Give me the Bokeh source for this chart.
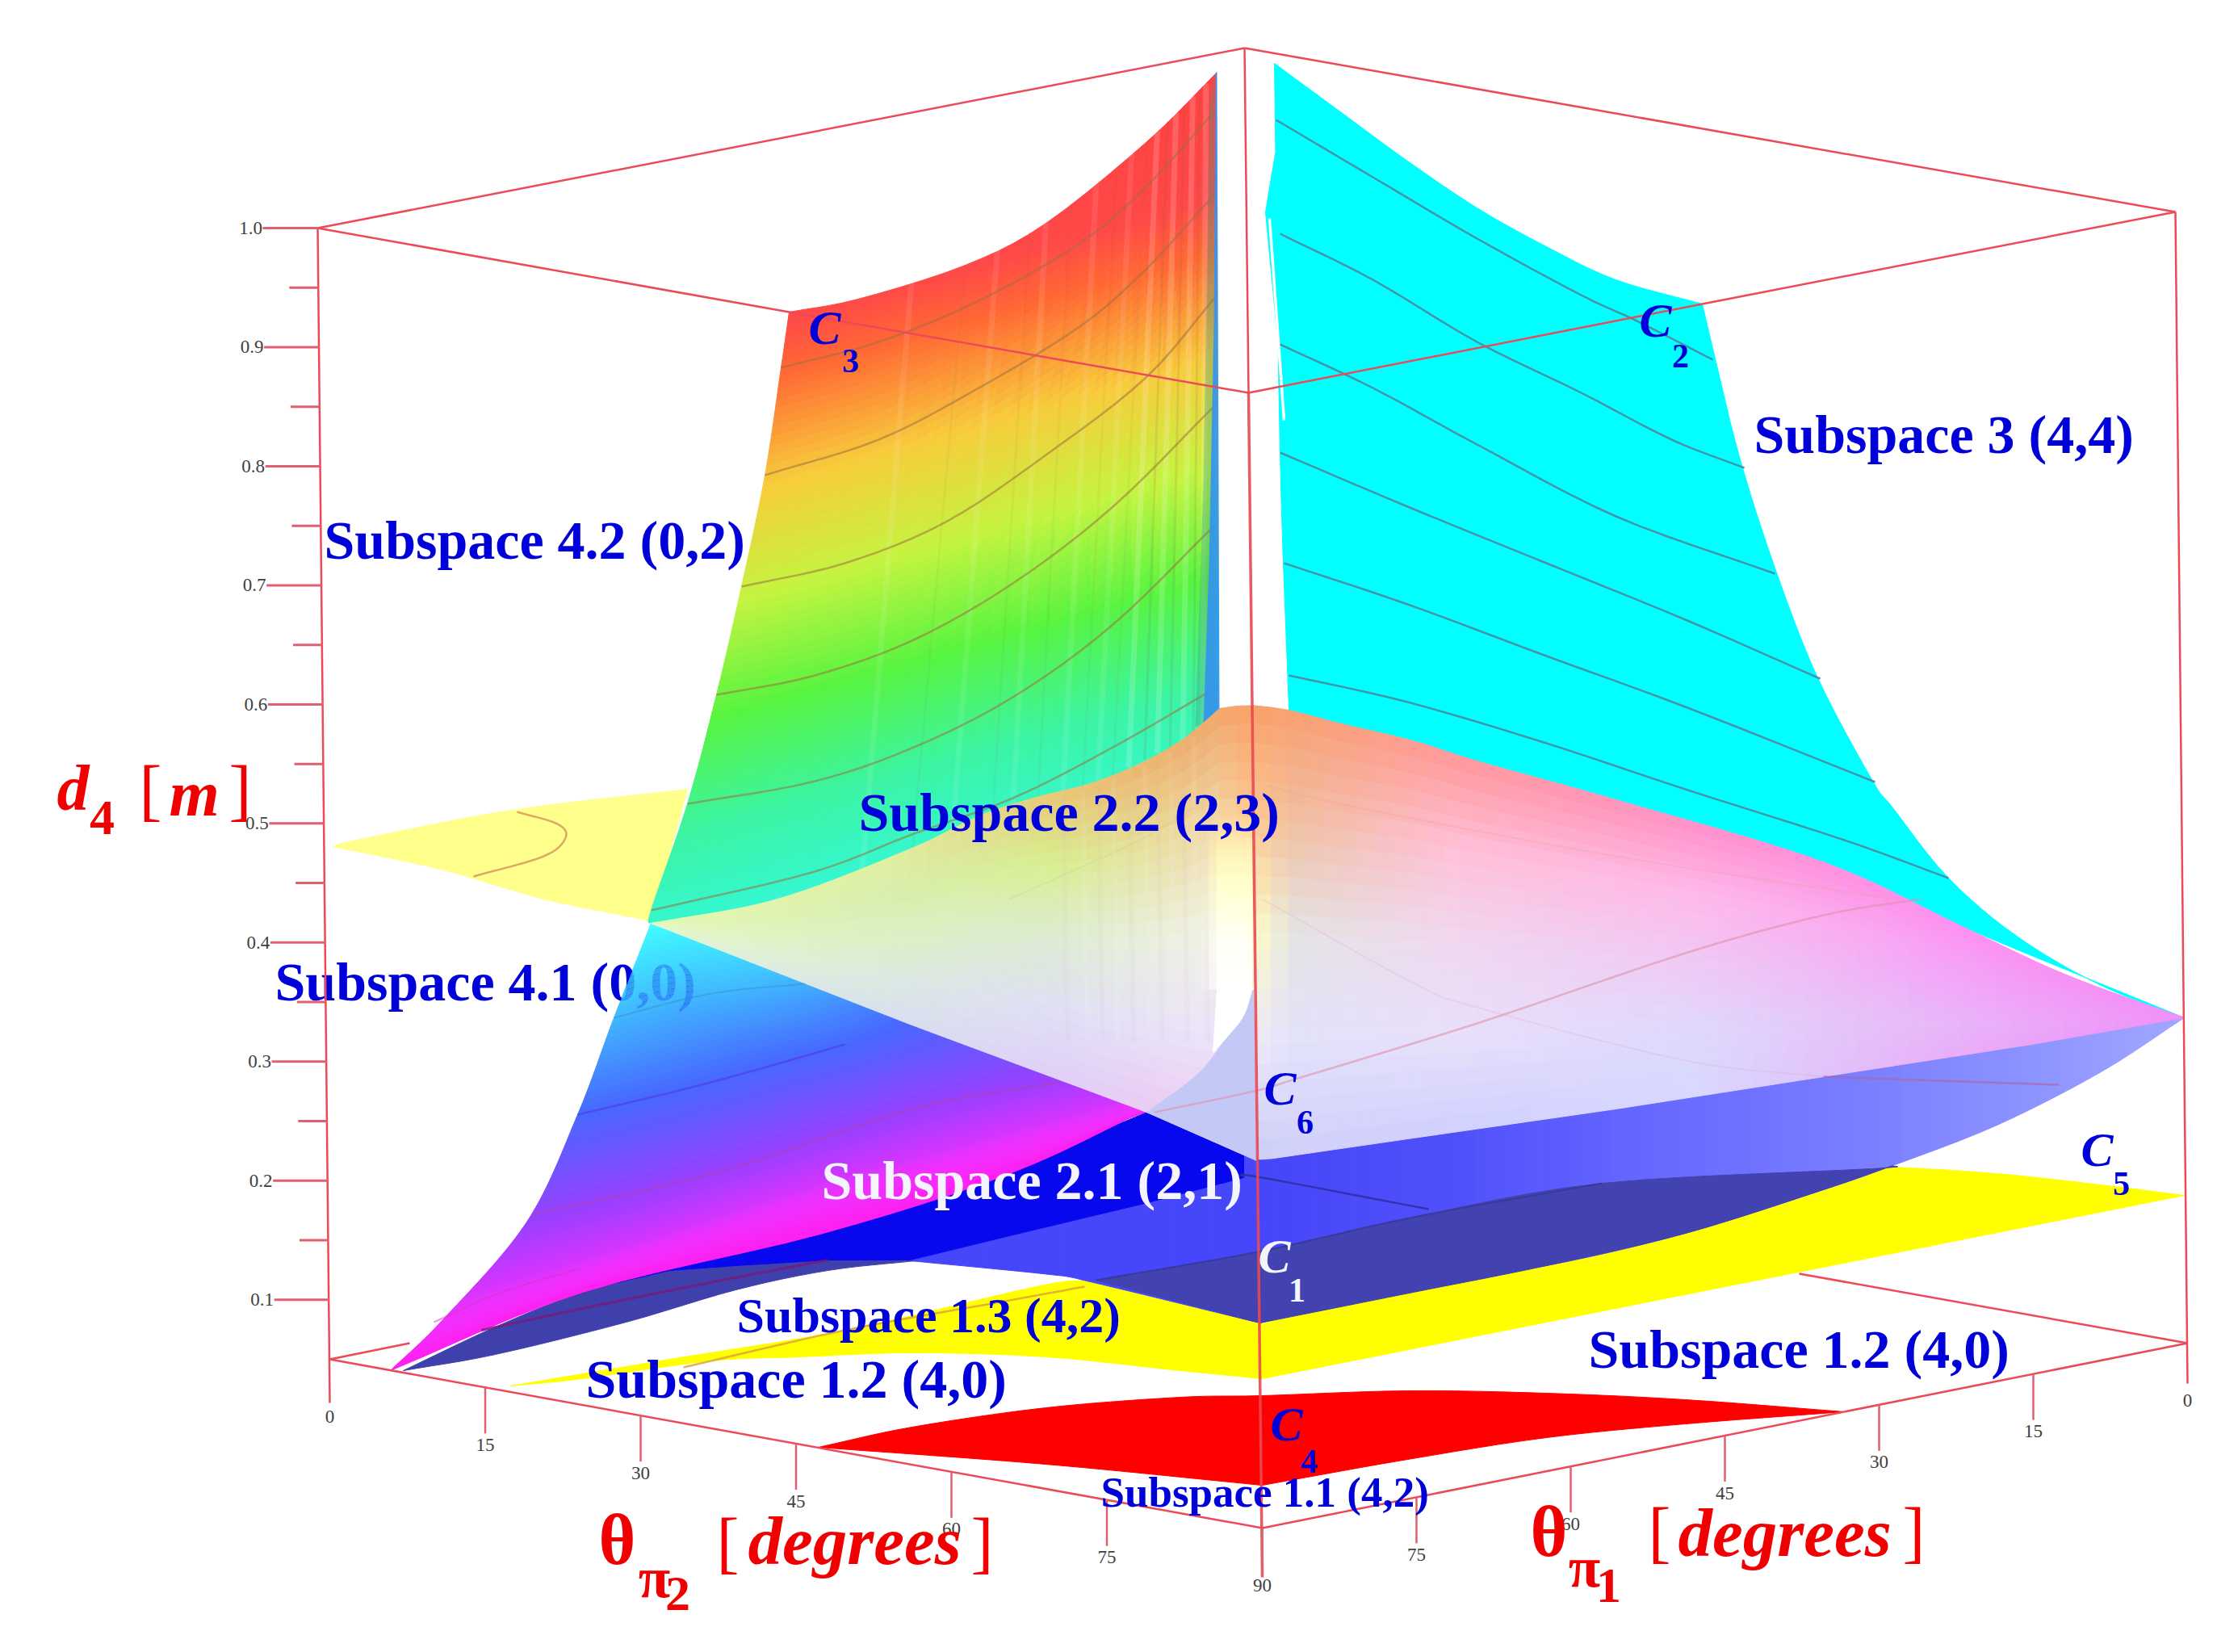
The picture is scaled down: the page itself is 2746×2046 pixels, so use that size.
import numpy as np
from bokeh.plotting import figure
from bokeh.models import Range1d, ColumnDataSource
from bokeh.core.properties import value
from bokeh.embed import file_html
from bokeh.resources import INLINE

# ---------- axis values ----------
d4_major = [0.1, 0.2, 0.3, 0.4, 0.5, 0.6, 0.7, 0.8, 0.9, 1.0]
d4_minor = [0.15, 0.25, 0.35, 0.45, 0.55, 0.65, 0.75, 0.85, 0.95]
theta_ticks = [0, 15, 30, 45, 60, 75, 90]

# box corners in the picture plane
BOX_TL, BOX_TB, BOX_TF, BOX_TR = (393, 282), (1541, 59), (1546, 486), (2694, 262)
BOX_BL, BOX_BF, BOX_BR = (408, 1683), (1563, 1892), (2709, 1663)
LID_L, LID_R = (977, 386), (2108, 376)
BACK_L, BACK_R = (507, 1663), (2228, 1577)

# ---------- surfaces ----------
cyan_upper = [(1578,78),(1657,136),(1743,199),(1829,257),(1915,305),(2001,346),(2108,376)]
cyan_right = [(2108,376),(2125,448),(2155,569),(2198,703),(2250,837),(2318,965),(2344,1000),(2413,1087),(2499,1160),(2602,1220),(2705,1260)]
cyan_back = [(2705,1260),(2430,1147),(2258,1067),(2001,990),(1829,942),(1657,895),(1596,879)]
cyan_left = [(1596,879),(1585,560),(1578,78)]
cyan_wedge = [(1579,190),(1567,262),(1592,525),(1584,400)]
cyan_sliver = [(1572,270),(1590,520)]
cyan_contours = [
    [(1580,148),(1700,219),(1829,295),(1958,365),(2027,397),(2121,445)],
    [(1585,289),(1700,346),(1829,423),(1958,486),(2070,544),(2160,579)],
    [(1585,426),(1700,480),(1829,550),(2001,639),(2198,710)],
    [(1585,560),(1743,627),(1915,697),(2087,767),(2254,840)],
    [(1590,697),(1743,748),(1915,812),(2087,875),(2322,968)],
    [(1596,836),(1743,869),(1915,920),(2087,977),(2284,1040),(2413,1087)],
]
wing_upper = [(412,1048),(441,1040),(632,1003),(851,977)]
wing_hidden = [(851,977),(806,1140)]
wing_lower = [(806,1140),(673,1113),(549,1077),(412,1048)]
wing_arc = [(640,1005),(690,1020),(700,1037),(673,1060),(586,1085)]

rainbow_rows = [
    [(977,386),(1062,370),(1195,328),(1295,276),(1420,175),(1506,90)],
    [(967,455),(1088,423),(1212,372),(1337,301),(1419,231),(1506,135)],
    [(947,588),(1088,544),(1212,480),(1337,404),(1419,333),(1506,238)],
    [(918,726),(1046,697),(1171,646),(1295,563),(1419,467),(1507,365)],
    [(887,860),(1005,837),(1129,793),(1254,722),(1378,627),(1507,499)],
    [(851,995),(1005,968),(1129,926),(1254,863),(1378,773),(1508,646)],
    [(806,1127),(1005,1080),(1129,1033),(1254,988),(1378,925),(1508,850)],
    [(806,1143),(1005,1110),(1129,1060),(1254,1000),(1378,960),(1509,895)],
]
rainbow_stop_y = [240,400,470,600,735,870,1000,1130,1250]
rainbow_stop_c = ["#ff4040","#ff4848","#ff6a34","#f8cc3c","#c4f440","#58f440","#3cf4a0","#34f8d8","#34ffff"]
rib_positions = [1.5,2.0,2.4,2.8,3.0,3.25,3.5,3.7,3.85,4.0,4.15,4.3,4.42,4.54,4.66,4.76,4.85]
blue_strip = [(1505,90),(1507,88),(1509,600),(1510,895),(1490,900),(1497,700),(1503,400)]
teal_strip = [(1498,120),(1503,95),(1504,890),(1480,900),(1490,600)]

lower41_rows = [
    [(806,1143),(806,1143),(806,1143),(806,1143),(806,1143)],
    [(760,1260),(800,1247),(840,1237),(900,1227),(1003,1208)],
    [(715,1380),(830,1352),(950,1318),(1060,1290),(1135,1259)],
    [(652,1513),(800,1475),(1000,1415),(1170,1365),(1318,1330)],
    [(549,1633),(750,1568),(1000,1490),(1250,1420),(1417,1370)],
    [(483,1697),(721,1600),(1019,1527),(1250,1453),(1424,1372)],
]
lower41_colors = ["#40ffff","#40b8ff","#4868ff","#9a40ff","#f030ff","#ff20f0"]
deep_blue = [(1420,1377),(1540,1430),(1540,1458),(1417,1490),(1250,1530),(1127,1560),(1025,1560),(911,1567),(829,1573),
             (721,1598),(1000,1522),(1250,1448)]

medium_top = [(1127,1560),(1250,1530),(1417,1490),(1540,1430),(1557,1437),(1743,1410),(2001,1373),(2258,1333),(2516,1293),(2705,1260)]
medium_bottom = [(1127,1561),(1300,1578),(1350,1587),(1560,1638),(1743,1593),(1915,1567),(2087,1527),(2258,1473),(2344,1443),(2473,1393),(2602,1327),(2705,1260)]
medium_x = [1127,1557,1800,2000,2300,2500,2705]
medium_c = ["#4646fa","#4646fa","#5050fa","#6464ff","#7a7eff","#8c92ff","#a0a8ff"]

navy_left_up = [(499,1697),(613,1643),(721,1600),(829,1573),(911,1567),(1025,1560),(1133,1561)]
navy_left_lo = [(1133,1561),(1025,1573),(911,1597),(775,1637),(613,1677),(499,1697)]
navy_c_up = [(1357,1585),(1557,1550),(1750,1507),(1984,1465),(2318,1447),(2344,1443)]
navy_c_lo = [(2344,1443),(2258,1473),(2087,1527),(1915,1567),(1750,1600),(1560,1638)]

yellow_up = [(632,1716),(829,1683),(1046,1647),(1283,1593),(1343,1585)]
yellow_h1 = [(1343,1585),(1563,1639)]
yellow_h2 = [(1563,1639),(2318,1447)]
yellow_up_r = [(2318,1447),(2344,1445),(2473,1453),(2602,1467),(2705,1480)]
yellow_lo_r = [(2705,1480),(1563,1707)]
yellow_lo_l = [(1563,1707),(1461,1697),(1295,1680),(1129,1675),(992,1680),(880,1685),(721,1707),(632,1716)]
red_up = [(1013,1792),(1129,1767),(1295,1743),(1461,1730),(1563,1728),(1743,1722),(1915,1725),(2087,1733),(2284,1748)]
red_lo_r = [(2284,1748),(2087,1763),(1915,1780),(1743,1807),(1563,1839)]
red_lo_l = [(1563,1839),(1295,1813),(1013,1792)]

sheet_top_l = [(806,1143),(963,1113),(1129,1050),(1212,1010),(1283,987),(1350,970),(1417,943),(1477,907),(1507,878),(1550,873)]
sheet_top_r = [(1550,873),(1596,879),(1657,895),(1750,917),(1829,942),(2001,990),(2258,1067),(2430,1147),(2559,1207),(2705,1260)]
sheet_bottom = [(806,1143),(1129,1269),(1420,1377),(1557,1437),(1743,1410),(2001,1373),(2258,1333),(2516,1293),(2705,1260)]
sheet_x = [806,1100,1300,1500,1550,1600,1800,2100,2400,2705]
sheet_v = [0,0.25,0.5,0.75,1]
sheet_c = [
    ["#e4f8b8","#e4f8b8","#e4f8c0","#e4f8c8","#e4f8d0"],
    ["#e0f0a0","#d8eeb0","#dcf0c4","#dceae0","#d8e0f0"],
    ["#e8c878","#d8f090","#dcecd0","#dfe0f4","#e0d0f8"],
    ["#f0a868","#f0d8a8","#f2f2e4","#ece4fa","#f0c8f0"],
    ["#f8a068","#ffc890","#ffffc0","#f0e8f8","#c8ccf6"],
    ["#f8a070","#f0c0a0","#e4e4e4","#e2e2fb","#d0d0fa"],
    ["#ff9898","#ffc0d8","#f0d8f0","#e8e0fa","#d0d0ff"],
    ["#ff90c8","#ffb8e8","#f0c8f4","#e0d8fc","#d8d8ff"],
    ["#ff90f0","#f8a0f4","#f0acf8","#e8b8f8","#e8b0f8"],
    ["#f090f8","#f090f8","#f090f8","#f090f8","#f090f8"],
]
periwinkle_curve = [(1420,1377),(1483,1330),(1520,1283),(1540,1257),(1552,1220)]
strip_y = [1000,1030,1060,1090,1130,1170,1225]
strip_c = ["#ffd49c","#ffe6ac","#fff6bc","#ffffcc","#ffffe4","#fffff8","#ffffff"]
gap_bottom = [(1502,1303),(1520,1283),(1540,1257),(1552,1220)]

sheet_lines = [
    ([(1430,1377),(1557,1350),(1607,1335),(1829,1267),(2087,1180),(2258,1133),(2378,1113)], "#e090a8", 0.6, 2.5),
    ([(1563,1113),(1750,1217),(1829,1247),(2087,1313),(2258,1333)], "#d8a0c0", 0.2, 2),
    ([(1570,973),(1683,1000),(2001,1060),(2344,1113)], "#e8a0a0", 0.3, 2),
    ([(2258,1333),(2550,1343)], "#a868a8", 0.7, 2.5),
    ([(1250,1113),(1417,1037),(1500,985)], "#b8c890", 0.2, 2),
    ([(1540,1457),(1557,1457),(1769,1497)], "#3030a8", 0.9, 2.5),
    ([(1357,1585),(1557,1550),(1750,1507),(1984,1465)], "#383898", 0.9, 2),
    ([(596,1647),(721,1620),(884,1587),(1025,1560)], "#781878", 0.8, 3),
    ([(846,1693),(1046,1647),(1250,1610),(1343,1593)], "#d8a040", 0.8, 2.5),
    ([(661,1503),(894,1450),(1129,1373),(1312,1340)], "#b040b0", 0.5, 2.5),
    ([(760,1260),(880,1230),(997,1218)], "#4090c8", 0.5, 2),
    ([(715,1380),(880,1340),(1046,1293)], "#5038d8", 0.6, 2.5),
    ([(537,1637),(620,1600),(720,1570)], "#e030c0", 0.5, 2),
]

# ---------- helpers ----------
def smooth(pts, n=6):
    P = np.asarray(pts, float)
    if len(P) < 3:
        return P
    Q = np.vstack([2*P[0]-P[1], P, 2*P[-1]-P[-2]])
    out = []
    for i in range(1, len(Q)-2):
        for t in np.linspace(0, 1, n, endpoint=False):
            a, b, c, d = Q[i-1], Q[i], Q[i+1], Q[i+2]
            out.append(0.5*((2*b)+(c-a)*t+(2*a-5*b+4*c-d)*t*t+(3*b-a-3*c+d)*t**3))
    out.append(P[-1])
    return np.array(out)

def closed(*sections):
    return np.vstack([smooth(s) for s in sections])

def rgb(h):
    return np.array([int(h[i:i+2], 16) for i in (1, 3, 5)], float)

def hexc(c):
    c = np.clip(np.round(c), 0, 255).astype(int)
    return "#%02x%02x%02x" % tuple(c)

def surface(rows, subr, subc=6):
    R = np.array([smooth(r, subc) for r in rows])
    return np.stack([smooth(R[:, j], subr) for j in range(R.shape[1])], axis=1)

def band_mesh(rows, colors, sub):
    S = surface(rows, sub)
    xs, ys, cs = [], [], []
    for i in range(S.shape[0]-1):
        poly_ = np.vstack([S[i], S[i+1][::-1]])
        xs.append(poly_[:, 0].tolist()); ys.append(poly_[:, 1].tolist())
        f = (i+0.5)/sub
        k = int(f); t = f-k
        cs.append(hexc(rgb(colors[k])*(1-t)+rgb(colors[k+1])*t))
    return dict(xs=xs, ys=ys, c=cs)

def poly(p, pts, color, alpha=1.0):
    P = np.asarray(pts, float)
    if alpha < 1:
        p.patch(P[:, 0], P[:, 1], fill_color=color, fill_alpha=alpha, line_color=None)
    else:
        p.patch(P[:, 0], P[:, 1], fill_color=color, line_color=color, line_width=1)

def pline(p, pts, color, width=2.5, alpha=1.0, curved=False):
    P = smooth(pts) if curved else np.asarray(pts, float)
    p.line(P[:, 0], P[:, 1], line_color=color, line_width=width, line_alpha=alpha)

def label(p, x, y, s, size, color, style="bold", align="left"):
    p.text([x], [y], text=[s], text_font=value("Liberation Serif"), text_font_size=value(f"{size}px"),
           text_font_style=style, text_color=color, text_align=align, text_baseline="middle")

# ---------- figure ----------
p = figure(width=2730, height=2030, x_range=Range1d(0, 2730), y_range=Range1d(2030, 0),
           output_backend="svg", toolbar_location=None, min_border=0)
p.axis.visible = False
p.grid.visible = False
p.outline_line_color = None
p.background_fill_color = "white"

BOX = "#ec4a58"
pline(p, [BOX_BL, BACK_L], BOX)
pline(p, [BOX_BR, BACK_R], BOX)

# Subspace 3
poly(p, closed(cyan_upper, cyan_right, cyan_back, cyan_left), "#00ffff")
poly(p, cyan_wedge, "#00ffff")
pline(p, cyan_sliver, "#ffffff", 3.5)
for c in cyan_contours:
    pline(p, c, "#4590a4", 2.5, 0.95, curved=True)

# yellow wing
poly(p, closed(wing_upper, wing_hidden, wing_lower), "#ffff8c")
pline(p, wing_arc, "#d8a060", 2.5, 0.9, curved=True)

# rainbow: colour follows height, tilted towards the back corner
S = surface(rainbow_rows, 12, 5)
stops = np.array([rgb(c) for c in rainbow_stop_c])
rd = dict(xs=[], ys=[], c=[])
for i in range(S.shape[0]-1):
    for j in range(S.shape[1]-1):
        q = np.array([S[i, j], S[i, j+1], S[i+1, j+1], S[i+1, j]])
        cx, cy = q.mean(axis=0)
        ye = cy+(cx-950)*0.28
        rd["xs"].append(q[:, 0].tolist()); rd["ys"].append(q[:, 1].tolist())
        rd["c"].append(hexc(np.array([np.interp(ye, rainbow_stop_y, stops[:, ch]) for ch in range(3)])))
p.patches("xs", "ys", source=ColumnDataSource(rd), fill_color="c", line_color="c", line_width=1)
R = np.array(rainbow_rows, float)
for k, f in enumerate(rib_positions):
    i = int(f); t = f-i
    rib = R[:, i]*(1-t)+R[:, i+1]*t
    light = k % 2 == 0
    a = 0.16 if f > 4 else 0.09
    pline(p, [rib[0], rib[-1]], "#ffffff" if light else "#806040", 7 if light else 3, a if light else a-0.03)
for i in range(1, 7):
    pline(p, rainbow_rows[i], "#9a7040", 2.5, 0.55, curved=True)
poly(p, teal_strip, "#409c80", 0.35)
poly(p, blue_strip, "#3494ee", 0.92)

# lower floors
poly(p, closed(yellow_up, yellow_h1, yellow_h2, yellow_up_r, yellow_lo_r, yellow_lo_l), "#ffff00")
poly(p, closed(red_up, red_lo_r, red_lo_l), "#ff0000")

# medium blue body
mx = np.linspace(medium_x[0], medium_x[-1], 150)
mts = np.array(medium_top, float)
mbs = np.vstack([smooth(medium_bottom[:4]), smooth(medium_bottom[3:])])
mt = np.interp(mx, mts[:, 0], mts[:, 1])
mb = np.interp(mx, mbs[:, 0], mbs[:, 1])
mc = np.array([np.interp(mx, medium_x, [rgb(c)[j] for c in medium_c]) for j in range(3)]).T
md = dict(xs=[], ys=[], c=[])
for i in range(len(mx)-1):
    md["xs"].append([mx[i], mx[i+1], mx[i+1], mx[i]])
    md["ys"].append([mt[i], mt[i+1], mb[i+1], mb[i]])
    md["c"].append(hexc(mc[i]))
p.patches("xs", "ys", source=ColumnDataSource(md), fill_color="c", line_color="c", line_width=1)
poly(p, closed(navy_left_up, navy_left_lo), "#4040ac")
poly(p, closed(navy_c_up, navy_c_lo), "#4242b0")

# Subspace 4.1
poly(p, deep_blue, "#0808ee")
src41 = ColumnDataSource(band_mesh(lower41_rows, lower41_colors, 14))
p.patches("xs", "ys", source=src41, fill_color="c", line_color="c", line_width=1)

label(p, 340, 1215, "Subspace 4.1 (0,0)", 68, "#0000d8")
p.patches("xs", "ys", source=src41, fill_color="c", fill_alpha=0.78, line_color=None)

# translucent sheet, Subspaces 2.1 / 2.2
sx = np.linspace(sheet_x[0], sheet_x[-1], 90)
sts = np.vstack([smooth(sheet_top_l), smooth(sheet_top_r)])
sbs = np.array(sheet_bottom, float)
st = np.interp(sx, sts[:, 0], sts[:, 1])
sb = np.interp(sx, sbs[:, 0], sbs[:, 1])
grid = np.array([[rgb(c) for c in col] for col in sheet_c])
vs = np.linspace(0, 1, 25)
sd = dict(xs=[], ys=[], c=[])
for i in range(len(sx)-1):
    xm = (sx[i]+sx[i+1])/2
    col = np.array([[np.interp(xm, sheet_x, grid[:, r, ch]) for ch in range(3)] for r in range(5)])
    for j in range(len(vs)-1):
        vm = (vs[j]+vs[j+1])/2
        cc = [np.interp(vm, sheet_v, col[:, ch]) for ch in range(3)]
        sd["xs"].append([sx[i], sx[i+1], sx[i+1], sx[i]])
        sd["ys"].append([st[i]+(sb[i]-st[i])*vs[j], st[i+1]+(sb[i+1]-st[i+1])*vs[j],
                         st[i+1]+(sb[i+1]-st[i+1])*vs[j+1], st[i]+(sb[i]-st[i])*vs[j+1]])
        sd["c"].append(hexc(np.array(cc)))
p.patches("xs", "ys", source=ColumnDataSource(sd), fill_color="c", line_color="c", line_width=1)

# ribs seen through the sheet
for k, f in enumerate(rib_positions[6:]):
    i = int(f); t = f-i
    rib = R[:, i]*(1-t)+R[:, i+1]*t
    x0 = rib[-1, 0]
    pline(p, [(x0, np.interp(x0, sts[:, 0], sts[:, 1])+6), (x0+6, 1290)], "#ffffff" if k % 2 else "#d0b0c0", 6, 0.08)

poly(p, np.vstack([smooth(periwinkle_curve), [(1556, 1437)]]), "#c4c8f6")
# pale gap below the apex, fading downwards and to the left
gy = np.linspace(strip_y[0], strip_y[-1], 31)
gc = np.array([np.interp(gy, strip_y, [rgb(c)[j] for c in strip_c]) for j in range(3)]).T
for i in range(len(gy)-1):
    c = hexc(gc[i])
    fade = min(1.0, (i+1)/6)
    poly(p, [(1488, gy[i]), (1497, gy[i]), (1497, gy[i+1]), (1488, gy[i+1])], c, 0.22*fade)
    poly(p, [(1497, gy[i]), (1507, gy[i]), (1507, gy[i+1]), (1497, gy[i+1])], c, 0.55*fade)
    poly(p, [(1507, gy[i]), (1550, gy[i]), (1550, gy[i+1]), (1507, gy[i+1])], c, fade)
poly(p, np.vstack([smooth(gap_bottom), [(1552, 1225), (1507, 1225)]]), "#ffffff")

for pts, col, a, w in sheet_lines:
    pline(p, pts, col, w, a, curved=True)

# box
for a, b in [(BOX_TL, BOX_TB), (BOX_TB, BOX_TR), (BOX_TL, LID_L), (LID_L, BOX_TF), (BOX_TR, LID_R), (LID_R, BOX_TF),
             (BOX_TB, BOX_TF), (BOX_BL, BOX_BF), (BOX_BR, BOX_BF), (BOX_TL, (408, 1737)), (BOX_TR, (2709, 1713))]:
    pline(p, [a, b], BOX, 2.5)
pline(p, [BOX_TF, (1563, 1953)], "#ea4850", 3.5, 0.9)

# ticks
TICK = "#e06070"
def left_axis(d):
    y = BOX_BL[1]+(d-0.05)/0.95*(BOX_TL[1]-BOX_BL[1])
    x = BOX_BL[0]+(d-0.05)/0.95*(BOX_TL[0]-BOX_BL[0])
    return x, y
for d in d4_major:
    x, y = left_axis(d)
    pline(p, [(x-68, y), (x, y)], TICK, 3)
    label(p, x-83, y, f"{d:.1f}", 23, "#404040", "normal", "center")
for d in d4_minor:
    x, y = left_axis(d)
    pline(p, [(x-36, y), (x, y)], TICK, 3)
for v in theta_ticks[1:]:
    x = BOX_BL[0]+(BOX_BF[0]-BOX_BL[0])*v/90
    y = BOX_BL[1]+(BOX_BF[1]-BOX_BL[1])*v/90
    pline(p, [(x, y), (x, y+57)], TICK, 2.5)
for v in theta_ticks[:-1]:
    x = BOX_BR[0]+(BOX_BF[0]-BOX_BR[0])*v/90
    y = BOX_BR[1]+(BOX_BF[1]-BOX_BR[1])*v/90
    if v:
        pline(p, [(x, y), (x, y+57)], TICK, 2.5)
for v in theta_ticks:
    x = BOX_BL[0]+(BOX_BF[0]-BOX_BL[0])*v/90
    y = BOX_BL[1]+(BOX_BF[1]-BOX_BL[1])*v/90
    label(p, x, y+71, str(v), 23, "#404040", "normal", "center")
for v in theta_ticks[:-1]:
    x = BOX_BR[0]+(BOX_BF[0]-BOX_BR[0])*v/90
    y = BOX_BR[1]+(BOX_BF[1]-BOX_BR[1])*v/90
    label(p, x, y+71, str(v), 23, "#404040", "normal", "center")

# subspace labels
BLUE = "#0000d8"
label(p, 401, 668, "Subspace 4.2 (0,2)", 68, BLUE)
label(p, 2172, 537, "Subspace 3 (4,4)", 68, BLUE)
label(p, 1063, 1005, "Subspace 2.2 (2,3)", 68, BLUE)
label(p, 1017, 1461, "Subspace 2.1 (2,1)", 68, "#f4f4ff")
label(p, 912, 1628, "Subspace 1.3 (4,2)", 62, BLUE)
label(p, 725, 1707, "Subspace 1.2 (4,0)", 68, BLUE)
label(p, 1967, 1670, "Subspace 1.2 (4,0)", 68, BLUE)
label(p, 1363, 1847, "Subspace 1.1 (4,2)", 53, BLUE)

# corner labels
corners = [(1021,405,1053,446,"3",BLUE),(2050,396,2081,440,"2",BLUE),(1585,1347,1616,1389,"6",BLUE),
           (1578,1555,1606,1597,"1","#f4f4ff"),(2597,1423,2627,1465,"5",BLUE),(1593,1763,1621,1809,"4",BLUE)]
for cx, cy, sx_, sy_, n, col in corners:
    label(p, cx, cy, "C", 60, col, "bold italic", "center")
    label(p, sx_, sy_, n, 42, col, "bold", "center")

# axis titles
RED = "#f00000"
label(p, 90, 975, "d", 80, RED, "bold italic", "center")
label(p, 126, 1012, "4", 62, RED, "bold", "center")
label(p, 186, 978, "[", 84, RED, "normal", "center")
label(p, 240, 982, "m", 80, RED, "bold italic", "center")
label(p, 297, 978, "]", 84, RED, "normal", "center")

label(p, 764, 1907, "θ", 88, RED, "bold", "center")
label(p, 810, 1953, "π", 72, RED, "bold", "center")
label(p, 839, 1973, "2", 62, RED, "bold", "center")
label(p, 901, 1910, "[", 84, RED, "normal", "center")
label(p, 926, 1907, "degrees", 85, RED, "bold italic", "left")
label(p, 1216, 1910, "]", 84, RED, "normal", "center")

label(p, 1918, 1897, "θ", 88, RED, "bold", "center")
label(p, 1962, 1940, "π", 72, RED, "bold", "center")
label(p, 1992, 1963, "1", 62, RED, "bold", "center")
label(p, 2055, 1897, "[", 84, RED, "normal", "center")
label(p, 2078, 1897, "degrees", 85, RED, "bold italic", "left")
label(p, 2370, 1897, "]", 84, RED, "normal", "center")

open("out.html", "w").write(file_html(p, INLINE))
